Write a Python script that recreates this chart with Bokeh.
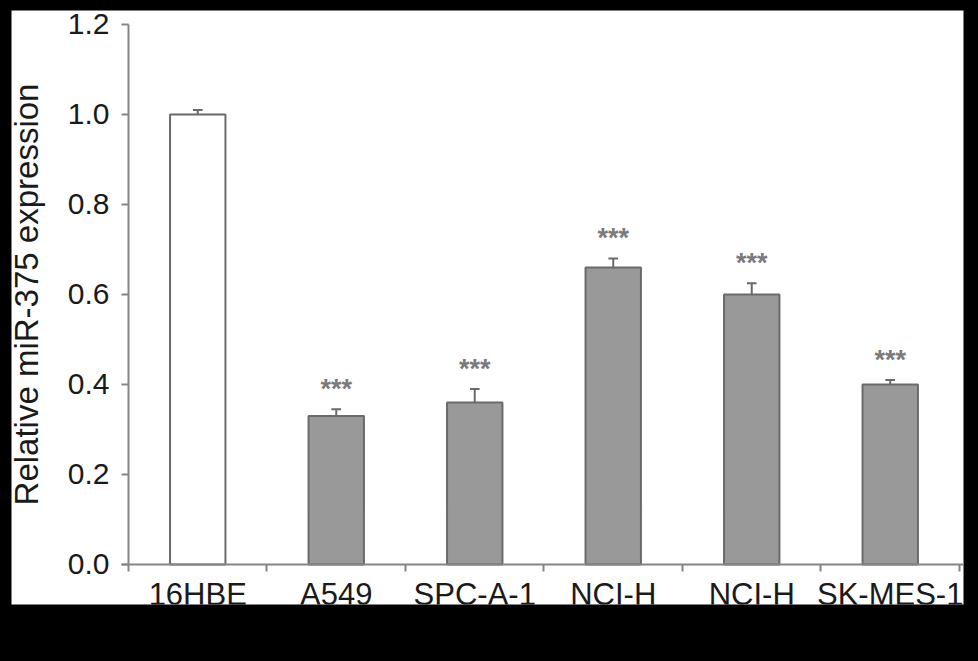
from bokeh.plotting import figure
from bokeh.models import Range1d, FixedTicker, ColumnDataSource, GlobalInlineStyleSheet, PrintfTickFormatter
from bokeh.embed import file_html
from bokeh.resources import INLINE
from bokeh.core.properties import value

# ---- data ----
categories = ["16HBE", "A549", "SPC-A-1", "NCI-H", "NCI-H", "SK-MES-1"]
expression = [1.00, 0.33, 0.36, 0.66, 0.60, 0.40]
errors = [0.01, 0.015, 0.03, 0.02, 0.025, 0.01]
significance = ["", "***", "***", "***", "***", "***"]
bar_colors = ["#ffffff", "#999999", "#999999", "#999999", "#999999", "#999999"]
y_ticks = [0.0, 0.2, 0.4, 0.6, 0.8, 1.0, 1.2]

n = len(categories)
centers = [i + 0.5 for i in range(n)]
err_top = [v + e for v, e in zip(expression, errors)]

src = ColumnDataSource(dict(
    x=centers, top=expression, err=err_top, color=bar_colors,
    cap_l=[c - 0.035 for c in centers], cap_r=[c + 0.035 for c in centers],
    stars=significance,
))

p = figure(width=978, height=661, output_backend="svg", toolbar_location=None,
           x_range=Range1d(-0.8448, 6.029), y_range=Range1d(-0.0889, 1.2311),
           min_border_left=11, min_border_right=15, min_border_top=10, min_border_bottom=57)
p.border_fill_color = "black"
p.background_fill_color = "white"
p.outline_line_color = None
p.xgrid.visible = False
p.ygrid.visible = False
p.stylesheets = [GlobalInlineStyleSheet(css="body { background-color: #000000; }")]

axis_color = "#858585"
font = "Liberation Sans"

# bars
p.vbar(x="x", top="top", bottom=0, width=0.4, source=src, fill_color="color",
       line_color="#6a6a6a", line_width=2)
# error bars (upper)
p.segment(x0="x", y0="top", x1="x", y1="err", source=src, line_color="#6a6a6a", line_width=2)
p.segment(x0="cap_l", y0="err", x1="cap_r", y1="err", source=src, line_color="#6a6a6a", line_width=2)
# significance stars
p.text(x="x", y="err", text="stars", source=src, text_align="center", text_baseline="middle",
       y_offset=-20, text_font=value(font), text_font_size="27px", text_color="#7a7a7a",
       text_font_style="bold")

# y axis
ya = p.yaxis[0]
ya.fixed_location = 0
ya.bounds = (0, 1.2)
ya.ticker = FixedTicker(ticks=y_ticks)
ya.formatter = PrintfTickFormatter(format="%.1f")
ya.minor_tick_line_color = None
ya.major_tick_out = 7
ya.major_tick_in = 0
ya.axis_line_color = axis_color
ya.axis_line_width = 2
ya.major_tick_line_color = axis_color
ya.major_tick_line_width = 2
ya.major_label_text_font = font
ya.major_label_text_font_size = "30px"
ya.major_label_text_color = "#1a1a1a"
ya.major_label_standoff = 12
ya.axis_label = "Relative miR-375 expression"
ya.axis_label_text_font = font
ya.axis_label_text_font_size = "33px"
ya.axis_label_text_font_style = "normal"
ya.axis_label_text_color = "#1a1a1a"
ya.axis_label_standoff = 20

# x axis
xa = p.xaxis[0]
xa.fixed_location = 0
xa.bounds = (-0.05, 6.04)
xa.ticker = FixedTicker(ticks=centers, minor_ticks=list(range(n + 1)))
xa.major_label_overrides = {c: lab for c, lab in zip(centers, categories)}
xa.major_tick_out = 0
xa.major_tick_in = 0
xa.minor_tick_out = 7
xa.minor_tick_in = 0
xa.axis_line_color = axis_color
xa.axis_line_width = 2
xa.minor_tick_line_color = axis_color
xa.minor_tick_line_width = 2
xa.major_label_text_font = font
xa.major_label_text_font_size = "31px"
xa.major_label_text_color = "#1a1a1a"
xa.major_label_standoff = 6

open("out.html", "w").write(file_html(p, INLINE))
